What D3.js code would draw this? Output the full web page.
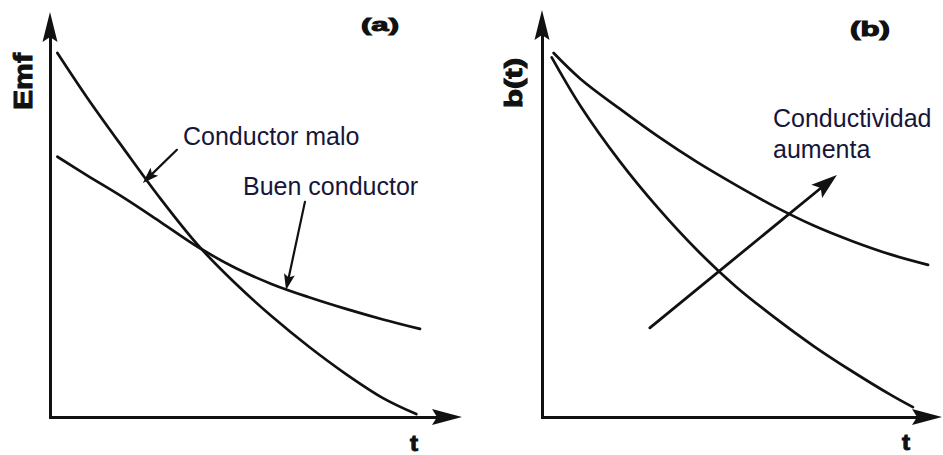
<!DOCTYPE html>
<html>
<head>
<meta charset="utf-8">
<script src="https://cdn.jsdelivr.net/npm/d3@7"></script>
<style>
  body { margin: 0; background: #fff; }
  svg { display: block; }
</style>
</head>
<body>
<svg id="grafico"></svg>
<script>
// datos (t y amplitud en unidades arbitrarias 0-10)
const paneles = ['(a)', '(b)'];
const titulosY = ['Emf', 'b(t)'];
const tituloX = 't';
const etiquetasA = ['Conductor malo', 'Buen conductor'];
const etiquetasB = ['Conductividad', 'aumenta'];

const tiempoMalo = [0.2, 1, 2, 3, 4, 5, 6, 7, 8, 9, 9.9];
const emfMalo    = [10.0, 8.78, 7.36, 5.98, 4.72, 3.68, 2.76, 1.93, 1.18, 0.52, 0.08];
const tiempoBuen = [0.2, 1, 2, 3, 4, 5, 6, 7, 8, 9, 10];
const emfBuen    = [7.15, 6.64, 6.02, 5.35, 4.67, 4.1, 3.65, 3.29, 2.97, 2.68, 2.42];

const tiempoAlta = [0.3, 1, 2, 3, 4, 5, 6, 7, 8, 9, 9.95];
const bAlta      = [10.0, 9.28, 8.47, 7.7, 7.0, 6.37, 5.78, 5.26, 4.83, 4.46, 4.18];
const tiempoBaja = [0.25, 1, 2, 3, 4, 5, 6, 7, 8, 9, 9.56];
const bBaja      = [9.88, 8.53, 7.03, 5.73, 4.58, 3.58, 2.73, 1.95, 1.25, 0.6, 0.27];

// flechas: [cola, punta] en unidades de datos
const flechaMalo = [[3.43, 7.34], [2.51, 6.43]];
const flechaBuen = [[6.89, 5.91], [6.38, 3.49]];
const flechaCond = [[2.78, 2.45], [7.6, 6.65]];

const ancho = 943, alto = 455;
const tinta = '#111';
const azul = '#16163a';
const fuente = '"Liberation Sans", Arial, sans-serif';

let svg = d3.select('#grafico')
            .attr('width', ancho)
            .attr('height', alto);

let xA = d3.scaleLinear().domain([0, 10]).range([50, 420]);
let yA = d3.scaleLinear().domain([0, 10]).range([417, 53]);
let xB = d3.scaleLinear().domain([0, 10]).range([542, 930]);
let yB = d3.scaleLinear().domain([0, 10]).range([417, 53]);

let linea = (fx, fy) => d3.line()
                .x(d => fx(d[0]))
                .y(d => fy(d[1]))
                .curve(d3.curveCatmullRom.alpha(0.5));

function punta(g, x1, y1, x2, y2, largo, medio, muesca) {
    let dx = x2 - x1, dy = y2 - y1;
    let l = Math.hypot(dx, dy);
    let ux = dx / l, uy = dy / l;
    let nx = -uy, ny = ux;
    let bx = x2 - ux * largo, by = y2 - uy * largo;
    let mx = x2 - ux * (largo - muesca), my = y2 - uy * (largo - muesca);
    g.append('path')
     .attr('d', 'M' + x2 + ',' + y2 +
                'L' + (bx + nx * medio) + ',' + (by + ny * medio) +
                'L' + mx + ',' + my +
                'L' + (bx - nx * medio) + ',' + (by - ny * medio) + 'Z')
     .attr('fill', tinta);
}

function ejes(x0, y0, xFin, yFin, puntaX, puntaY) {
    let g = svg.append('g');
    let ejeX = d3.axisBottom(d3.scaleLinear().range([x0, xFin])).tickValues([]).tickSizeOuter(0);
    g.append('g').attr('transform', 'translate(0,' + y0 + ')').call(ejeX);
    let ejeY = d3.axisLeft(d3.scaleLinear().range([y0 + 1.5, yFin])).tickValues([]).tickSizeOuter(0);
    g.append('g').attr('transform', 'translate(' + x0 + ',0)').call(ejeY);
    g.selectAll('.domain').attr('stroke', tinta).attr('stroke-width', 3);
    punta(g, x0, y0, puntaX, y0, 30, 8, 5);
    punta(g, x0, y0, x0, puntaY, 30, 7.5, 5);
}

function curva(fx, fy, ts, vs) {
    svg.append('path')
       .datum(ts.map((t, i) => [t, vs[i]]))
       .attr('d', linea(fx, fy))
       .attr('fill', 'none')
       .attr('stroke', tinta)
       .attr('stroke-width', 2.7)
       .attr('stroke-linecap', 'round');
}

function flecha(fx, fy, f, largo, medio, grosor) {
    let x1 = fx(f[0][0]), y1 = fy(f[0][1]);
    let x2 = fx(f[1][0]), y2 = fy(f[1][1]);
    let l = Math.hypot(x2 - x1, y2 - y1);
    let k = (l - largo * 0.7) / l;
    svg.append('line')
       .attr('x1', x1).attr('y1', y1)
       .attr('x2', x1 + (x2 - x1) * k).attr('y2', y1 + (y2 - y1) * k)
       .attr('stroke', tinta)
       .attr('stroke-width', grosor)
       .attr('stroke-linecap', 'round');
    punta(svg, x1, y1, x2, y2, largo, medio, largo * 0.2);
}

function negrita(txt, x, y, size, largo, rot) {
    let t = svg.append('text')
       .attr('font-family', fuente)
       .attr('font-weight', 'bold')
       .attr('font-size', size)
       .attr('fill', tinta)
       .attr('stroke', tinta)
       .attr('stroke-width', 1)
       .attr('textLength', largo)
       .attr('lengthAdjust', 'spacingAndGlyphs')
       .text(txt);
    if (rot) t.attr('transform', 'translate(' + x + ',' + y + ') rotate(-90)');
    else t.attr('x', x).attr('y', y);
}

function etiqueta(txt, x, y) {
    svg.append('text')
       .attr('x', x).attr('y', y)
       .attr('font-family', fuente)
       .attr('font-size', 25)
       .attr('fill', azul)
       .text(txt);
}

// panel (a)
ejes(50, 417, 440, 30, 462, 12);
curva(xA, yA, tiempoMalo, emfMalo);
curva(xA, yA, tiempoBuen, emfBuen);
flecha(xA, yA, flechaMalo, 16, 5.5, 2.2);
flecha(xA, yA, flechaBuen, 16, 5.5, 2.2);
etiqueta(etiquetasA[0], 183, 145);
etiqueta(etiquetasA[1], 243, 195);
negrita(paneles[0], 361, 31, 19, 38);
negrita(titulosY[0], 32, 110, 26, 57, true);
negrita(tituloX, 410, 451, 22, 8);

// panel (b)
ejes(542, 417, 925, 30, 942, 10);
curva(xB, yB, tiempoAlta, bAlta);
curva(xB, yB, tiempoBaja, bBaja);
flecha(xB, yB, flechaCond, 26, 8.5, 2.8);
etiqueta(etiquetasB[0], 773, 127);
etiqueta(etiquetasB[1], 773, 158);
negrita(paneles[1], 850, 36, 20, 40);
negrita(titulosY[1], 522, 108, 23, 50, true);
negrita(tituloX, 902, 450, 22, 8);
</script>
</body>
</html>
